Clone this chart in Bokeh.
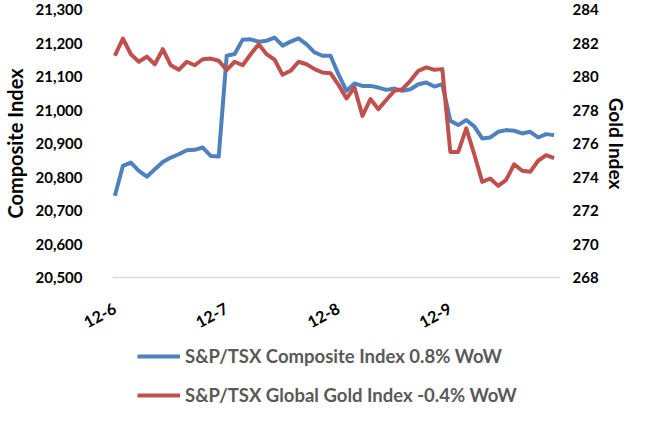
from bokeh.plotting import figure
from bokeh.layouts import column
from bokeh.models import (Range1d, LinearAxis, FixedTicker, NumeralTickFormatter,
                          Legend, LegendItem, ColumnDataSource)
from bokeh.embed import file_html
from bokeh.resources import INLINE

# ---- data ----
day_labels = ["12-6", "12-7", "12-8", "12-9"]
points_per_day = 14

composite = [20744, 20833, 20843, 20818, 20801, 20823, 20845, 20858, 20868, 20880, 20881, 20888, 20863, 20861,
             21162, 21167, 21210, 21211, 21204, 21207, 21216, 21192, 21204, 21214, 21196, 21172, 21162, 21162,
             21106, 21057, 21079, 21072, 21072, 21067, 21060, 21064, 21057, 21062, 21077, 21082, 21070, 21077,
             20968, 20955, 20970, 20951, 20915, 20918, 20935, 20940, 20938, 20930, 20935, 20918, 20928, 20925]

gold = [281.24, 282.27, 281.33, 280.88, 281.19, 280.73, 281.63, 280.67, 280.40, 280.88, 280.67, 281.03, 281.07, 280.94,
        280.39, 280.88, 280.67, 281.33, 281.93, 281.33, 281.00, 280.10, 280.34, 280.88, 280.73, 280.44, 280.24, 280.20,
        279.50, 278.69, 279.34, 277.65, 278.65, 278.05, 278.61, 279.15, 279.24, 279.74, 280.34, 280.54, 280.40, 280.44,
        275.50, 275.50, 276.90, 275.36, 273.71, 273.91, 273.47, 273.83, 274.76, 274.37, 274.31, 274.97, 275.30, 275.12]

composite_ticks = list(range(20500, 21301, 100))
gold_ticks = list(range(268, 285, 2))

series_names = ["S&P/TSX Composite Index 0.8% WoW", "S&P/TSX Global Gold Index -0.4% WoW"]
series_colors = ["#4F81BD", "#C0504D"]

idx = list(range(len(composite)))
src = ColumnDataSource(dict(x=idx, comp=composite, gold=gold))

FONT = "Lato"

main = figure(width=630, height=343, output_backend="svg", toolbar_location=None,
              x_range=Range1d(-0.3, 55.8), y_range=Range1d(20500, 21300),
              min_border_left=107, min_border_right=66, min_border_top=9, min_border_bottom=66)
main.extra_y_ranges = {"gold": Range1d(268, 284)}
main.xgrid.visible = False
main.ygrid.visible = False
main.outline_line_color = None
main.background_fill_color = "white"
main.border_fill_color = "white"

def style_axis(ax):
    ax.axis_line_color = None
    ax.major_tick_line_color = None
    ax.minor_tick_line_color = None
    ax.major_tick_out = 0
    ax.major_tick_in = 0
    ax.minor_tick_out = 0
    ax.minor_tick_in = 0
    ax.major_label_text_font = FONT
    ax.major_label_text_font_style = "bold"
    ax.major_label_text_font_size = "15px"
    ax.major_label_text_color = "black"
    ax.axis_label_text_font = FONT
    ax.axis_label_text_font_style = "bold"
    ax.axis_label_text_font_size = "20px"
    ax.axis_label_text_color = "black"

# left axis
ly = main.yaxis[0]
style_axis(ly)
ly.ticker = FixedTicker(ticks=composite_ticks)
ly.formatter = NumeralTickFormatter(format="0,0")
ly.major_label_standoff = 30
ly.axis_label = "Composite Index"
ly.axis_label_standoff = 5

# right axis
ry = LinearAxis(y_range_name="gold")
style_axis(ry)
ry.ticker = FixedTicker(ticks=gold_ticks)
ry.major_label_standoff = 12
ry.axis_label = "Gold Index"
ry.axis_label_text_font_size = "19px"
ry.axis_label_standoff = 3
main.add_layout(ry, "right")

# x axis
xa = main.xaxis[0]
style_axis(xa)
xa.axis_line_color = "#d9d9d9"
xa.axis_line_width = 1.5
xa.major_label_text_font_size = "16px"
tick_pos = [i * points_per_day for i in range(len(day_labels))]
xa.ticker = FixedTicker(ticks=tick_pos)
xa.major_label_overrides = {t: lab for t, lab in zip(tick_pos, day_labels)}
xa.major_label_orientation = 0.5
xa.major_label_standoff = 30

main.line("x", "comp", source=src, line_color=series_colors[0], line_width=4, line_join="round")
main.line("x", "gold", source=src, y_range_name="gold", line_color=series_colors[1], line_width=4, line_join="round")

# ---- legend strip below the chart (its own ranges keep the series out of view) ----
leg = figure(width=630, height=63, output_backend="svg", toolbar_location=None,
             x_axis_location=None, y_axis_location=None,
             x_range=Range1d(-100, -99), y_range=Range1d(-100, -99), min_border=0)
leg.xgrid.visible = False
leg.ygrid.visible = False
leg.outline_line_color = None
leg.border_fill_color = "white"
lr = [leg.line("x", col, source=src, line_color=c, line_width=4)
      for col, c in zip(["comp", "gold"], series_colors)]

legend = Legend(items=[LegendItem(label=n, renderers=[r]) for n, r in zip(series_names, lr)],
                location=(25, 0), orientation="vertical",
                border_line_color=None, background_fill_alpha=0,
                label_text_font=FONT, label_text_font_style="bold",
                label_text_font_size="18.5px", label_text_color="#595959",
                glyph_width=43, glyph_height=18, label_height=18,
                spacing=17, padding=0, margin=0, label_standoff=5)
leg.add_layout(legend, "center")

p = column(main, leg, spacing=0)

open("out.html", "w").write(file_html(p, INLINE))
